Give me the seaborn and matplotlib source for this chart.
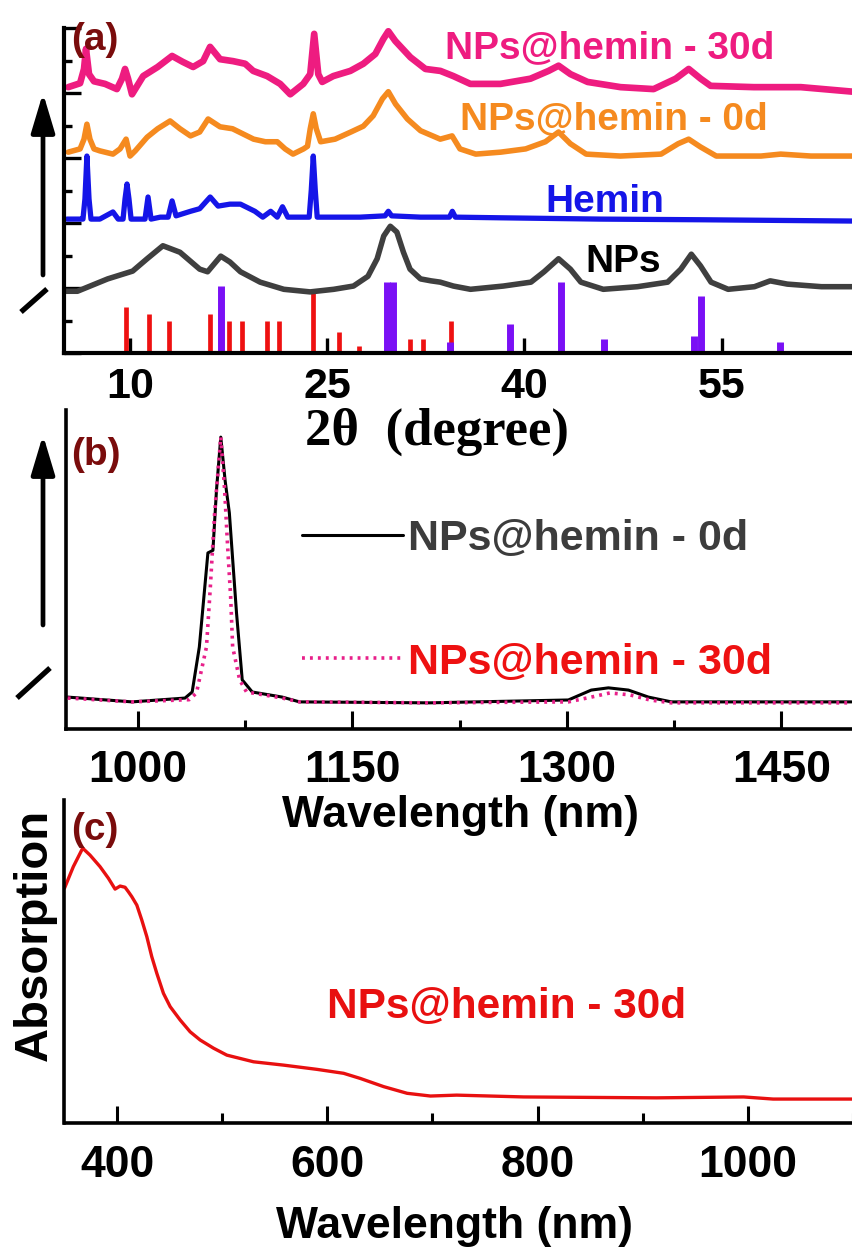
import numpy as np
import pandas as pd
import matplotlib
matplotlib.use("Agg")
import matplotlib.pyplot as plt
import seaborn as sns
from matplotlib.lines import Line2D
from matplotlib.ticker import MultipleLocator, FixedLocator

# ---------------- Panel (a): XRD (offset traces, arbitrary units) ----------------
nps_2theta = [5.1, 6.0, 8.3, 10.2, 11.3, 12.5, 13.8, 15.3, 15.9, 16.9, 17.6, 18.4, 19.9, 21.7,
              23.7, 25.5, 27.0, 28.1, 28.8, 29.3, 29.8, 30.3, 30.8, 31.3, 32.1, 32.9, 33.6, 34.6,
              35.9, 38.4, 40.5, 41.5, 42.6, 43.5, 44.3, 46.0, 48.6, 50.9, 51.9, 52.7, 53.4, 54.2,
              55.5, 57.5, 58.7, 60.0, 62.6, 65.0]
nps_int = [0.95, 0.95, 1.14, 1.26, 1.45, 1.65, 1.55, 1.29, 1.25, 1.49, 1.40, 1.25, 1.09, 0.98,
           0.94, 0.98, 1.03, 1.18, 1.45, 1.80, 1.95, 1.86, 1.55, 1.29, 1.14, 1.11, 1.09, 1.03,
           0.98, 1.03, 1.09, 1.25, 1.45, 1.29, 1.09, 0.98, 1.02, 1.09, 1.29, 1.52, 1.34, 1.09,
           0.98, 1.02, 1.11, 1.06, 1.02, 1.02]

hemin_2theta = [5.2, 6.3, 6.42, 6.57, 6.72, 6.88, 7.03, 7.7, 8.7, 9.1, 9.47, 9.62, 9.77, 9.92,
                10.08, 10.8, 11.14, 11.37, 11.6, 12.3, 12.9, 13.2, 13.5, 14.6, 15.3, 16.1, 16.7,
                17.6, 18.4, 19.5, 20.1, 20.7, 21.2, 21.6, 22.0, 23.0, 23.63, 23.79, 23.94, 24.09,
                24.24, 25.2, 27.5, 29.4, 29.65, 29.9, 32.1, 34.3, 34.52, 34.75, 38.2, 45.8, 53.4, 65.0]
hemin_int = [2.06, 2.06, 2.06, 2.37, 3.03, 2.37, 2.06, 2.06, 2.17, 2.06, 2.06, 2.37, 2.60, 2.37,
             2.06, 2.06, 2.06, 2.40, 2.06, 2.09, 2.09, 2.34, 2.11, 2.18, 2.22, 2.40, 2.26,
             2.29, 2.29, 2.18, 2.09, 2.18, 2.09, 2.25, 2.09, 2.09, 2.09, 2.51, 3.03, 2.51,
             2.09, 2.09, 2.09, 2.11, 2.18, 2.11, 2.09, 2.09, 2.18, 2.09, 2.08, 2.06, 2.05, 2.03]

h0d_2theta = [5.3, 6.2, 6.5, 6.72, 6.95, 7.26, 7.7, 8.7, 9.24, 9.7, 10.0, 10.4, 11.3, 12.1, 13.05,
              13.8, 14.6, 15.3, 15.94, 16.85, 17.8, 18.6, 19.4, 20.3, 21.2, 21.8, 22.4, 23.2, 23.5,
              23.71, 23.94, 24.17, 24.5, 25.6, 26.8, 27.75, 28.5, 29.2, 29.65, 30.2, 31.1, 32.1,
              33.6, 34.5, 35.1, 36.3, 38.2, 40.1, 41.6, 42.6, 43.5, 44.7, 47.3, 50.4, 51.7, 52.5,
              53.4, 54.6, 58.0, 59.5, 61.8, 65.0]
h0d_int = [3.09, 3.14, 3.29, 3.52, 3.29, 3.14, 3.11, 3.06, 3.14, 3.29, 3.03, 3.11, 3.32, 3.45, 3.57,
           3.45, 3.34, 3.40, 3.60, 3.48, 3.45, 3.37, 3.29, 3.25, 3.25, 3.14, 3.06, 3.14, 3.18,
           3.45, 3.68, 3.45, 3.25, 3.29, 3.40, 3.49, 3.65, 3.91, 4.02, 3.83, 3.60, 3.42,
           3.29, 3.34, 3.14, 3.06, 3.09, 3.14, 3.25, 3.40, 3.22, 3.06, 3.03, 3.06, 3.22, 3.29,
           3.17, 3.03, 3.03, 3.06, 3.03, 3.03]

h30d_2theta = [5.3, 6.2, 6.5, 6.65, 6.88, 7.26, 8.1, 9.0, 9.39, 9.62, 9.85, 10.15, 11.0, 12.1, 13.2,
               14.0, 14.8, 15.56, 16.09, 16.85, 17.84, 18.76, 19.37, 20.43, 21.42, 22.19, 23.18,
               23.71, 24.01, 24.32, 24.62, 25.46, 26.76, 27.75, 28.66, 29.27, 29.65, 30.18, 31.33,
               32.47, 33.61, 34.6, 35.89, 38.18, 40.46, 41.84, 42.6, 43.51, 44.81, 47.32, 49.83,
               51.51, 52.5, 53.41, 54.17, 57.45, 61.03, 65.0]
h30d_int = [4.09, 4.15, 4.37, 4.68, 4.29, 4.18, 4.14, 4.06, 4.22, 4.37, 4.22, 3.98, 4.26, 4.40, 4.57,
            4.48, 4.40, 4.49, 4.71, 4.52, 4.49, 4.45, 4.34, 4.26, 4.14, 3.98, 4.14,
            4.29, 4.91, 4.29, 4.17, 4.26, 4.34, 4.45, 4.60, 4.83, 4.95, 4.80, 4.55,
            4.37, 4.34, 4.26, 4.14, 4.14, 4.22, 4.34, 4.42, 4.29, 4.17, 4.09, 4.06,
            4.22, 4.37, 4.22, 4.11, 4.09, 4.09, 4.02]

ref_red_2theta = [9.70, 11.45, 12.97, 16.09, 17.54, 18.53, 20.43, 21.35, 23.94, 25.92, 27.44, 31.33, 32.32, 34.45]
ref_red_h = [0.71, 0.60, 0.49, 0.60, 0.49, 0.49, 0.49, 0.49, 0.95, 0.32, 0.11, 0.22, 0.22, 0.49]
ref_purple_2theta = [16.93, 29.57, 30.03, 34.37, 38.87, 42.75, 46.02, 52.88, 53.41, 59.43]
ref_purple_h = [1.03, 1.09, 1.09, 0.17, 0.45, 1.09, 0.22, 0.26, 0.88, 0.17]

xrd_ticks = [10, 25, 40, 55]
xrd_labels = ["NPs@hemin - 30d", "NPs@hemin - 0d", "Hemin", "NPs"]

# ---------------- Panel (b): emission spectra ----------------
pl_wl_0d = [951, 996, 1033, 1038, 1043, 1049, 1052.5, 1055, 1058, 1061, 1064, 1066.5, 1069, 1073,
            1080, 1101, 1113, 1204, 1301, 1317, 1329, 1343, 1357, 1373, 1499]
pl_0d = [0.100, 0.085, 0.097, 0.116, 0.257, 0.552, 0.560, 0.749, 0.915, 0.780, 0.677, 0.520, 0.364,
         0.154, 0.116, 0.100, 0.085, 0.082, 0.091, 0.122, 0.129, 0.122, 0.100, 0.085, 0.085]
pl_wl_30d = [951, 996, 1036, 1041, 1048, 1050.7, 1053.7, 1058, 1060.7, 1062.8, 1064.9, 1066.3,
             1071.2, 1076, 1101, 1113, 1204, 1301, 1317, 1330, 1344, 1358, 1373, 1499]
pl_30d = [0.097, 0.085, 0.092, 0.113, 0.257, 0.445, 0.677, 0.915, 0.749, 0.571, 0.414, 0.257,
          0.154, 0.116, 0.097, 0.085, 0.082, 0.085, 0.100, 0.113, 0.107, 0.091, 0.082, 0.082]
pl_ticks = [1000, 1150, 1300, 1450]
pl_minor = [1075, 1225, 1375]
pl_labels = ["NPs@hemin - 0d", "NPs@hemin - 30d"]

# ---------------- Panel (c): absorption ----------------
abs_wl = [350, 358.4, 367.3, 374.3, 383.8, 391.7, 398.1, 402.9, 407.6, 410.8, 414, 418.8, 423.5,
          428.3, 433, 437.8, 444.1, 450.5, 460, 469.5, 479, 491.7, 504.4, 529.8, 558.4, 590.2,
          615.5, 631.4, 653.6, 675.9, 698.1, 723, 786.7, 913, 996, 1024, 1100]
abs_val = [0.775, 0.846, 0.907, 0.884, 0.846, 0.808, 0.772, 0.782, 0.778, 0.763, 0.747, 0.719, 0.670,
           0.615, 0.549, 0.494, 0.428, 0.384, 0.340, 0.301, 0.274, 0.247, 0.224, 0.202, 0.191, 0.177,
           0.164, 0.147, 0.120, 0.098, 0.089, 0.092, 0.086, 0.083, 0.086, 0.079, 0.079]
abs_ticks = [400, 600, 800, 1000]
abs_minor = [500, 700, 900, 1100]

# ---------------- styling ----------------
sns.set_theme(style="white")
plt.rcParams["font.family"] = ["Liberation Sans", "DejaVu Sans"]
plt.rcParams["font.weight"] = "bold"
plt.rcParams["axes.labelweight"] = "bold"
plt.rcParams["text.color"] = "black"
plt.rcParams["axes.labelcolor"] = "black"
plt.rcParams["xtick.color"] = "black"
plt.rcParams["ytick.color"] = "black"
plt.rcParams["axes.edgecolor"] = "black"

C_PINK = "#EE1C80"
C_ORANGE = "#F58A1F"
C_BLUE = "#1515E8"
C_GRAY = "#3F3F3F"
C_RED = "#EE1111"
C_PURPLE = "#7A10F5"
C_MAROON = "#7A0C0C"

W, H = 853, 1248
fig = plt.figure(figsize=(W / 100, H / 100), dpi=100)
fig.patch.set_facecolor("white")


def fx(px):
    return px / W


def fy(py):
    return 1 - py / H


def rect(l, t, r, b):
    return [l / W, 1 - b / H, (r - l) / W, (b - t) / H]


def style_axes(ax, spine_w):
    for s in ["top", "right"]:
        ax.spines[s].set_visible(False)
    for s in ["left", "bottom"]:
        ax.spines[s].set_linewidth(spine_w)
        ax.spines[s].set_color("black")
    ax.set_facecolor("none")
    ax.grid(False)


# ---------- (a) ----------
axa = fig.add_axes(rect(64.3, 28, 853, 353))
style_axes(axa, 3.0)
axa.vlines(ref_red_2theta, 0, ref_red_h, colors=C_RED, lw=3.4, zorder=1)
axa.vlines(ref_purple_2theta, 0, ref_purple_h, colors=C_PURPLE, lw=5.0, zorder=1.1)
traces = [(h30d_2theta, h30d_int, C_PINK, 4.8), (h0d_2theta, h0d_int, C_ORANGE, 4.0),
          (hemin_2theta, hemin_int, C_BLUE, 3.8), (nps_2theta, nps_int, C_GRAY, 4.0)]
for xs, ys, c, lw in traces:
    sns.lineplot(x=xs, y=ys, ax=axa, color=c, lw=lw, sort=False, estimator=None, zorder=2)
axa.set_xlim(5, 65)
axa.set_ylim(0, 5.0)
axa.xaxis.set_major_locator(FixedLocator(xrd_ticks))
axa.yaxis.set_major_locator(MultipleLocator(1))
axa.yaxis.set_minor_locator(MultipleLocator(0.5))
axa.tick_params(axis="x", direction="in", length=11, width=2.4, pad=10, labelsize=31, bottom=True,
                colors="black")
axa.tick_params(axis="y", which="major", direction="in", length=12, width=2.4, left=True, labelleft=False)
axa.tick_params(axis="y", which="minor", direction="in", length=6, width=2.4, left=True)
axa.set_xlabel("2\u03b8  (degree)", fontsize=38, fontweight="bold", color="black",
               fontfamily=["Liberation Serif", "DejaVu Serif"])
axa.xaxis.set_label_coords((437 - 64.3) / (853 - 64.3), (353 - 408) / 325)
axa.set_ylabel("")

# direct labels
axa.text(33.99, 4.54, xrd_labels[0], color=C_PINK, fontsize=28, fontweight="bold", va="baseline", ha="left")
axa.text(35.13, 3.45, xrd_labels[1], color=C_ORANGE, fontsize=28, fontweight="bold", va="baseline", ha="left")
axa.text(41.61, 2.17, xrd_labels[2], color=C_BLUE, fontsize=28, fontweight="bold", va="baseline", ha="left")
axa.text(44.65, 1.25, xrd_labels[3], color="black", fontsize=28, fontweight="bold", va="baseline", ha="left")

# ---------- (b) ----------
axb = fig.add_axes(rect(66.3, 410, 853, 729))
style_axes(axb, 2.6)
sns.lineplot(x=pl_wl_0d, y=pl_0d, ax=axb, color="black", lw=2.2, sort=False, estimator=None,
             label=pl_labels[0], zorder=2)
sns.lineplot(x=pl_wl_30d, y=pl_30d, ax=axb, color="#E8208A", lw=2.6, sort=False, estimator=None,
             label=pl_labels[1], zorder=3, linestyle=(0, (0.8, 1.4)))
axb.set_xlim(950, 1500)
axb.set_ylim(0, 1)
axb.xaxis.set_major_locator(FixedLocator(pl_ticks))
axb.xaxis.set_minor_locator(FixedLocator(pl_minor))
axb.tick_params(axis="x", which="major", direction="in", length=13, width=2.2, pad=15, labelsize=32,
                bottom=True, colors="black")
axb.tick_params(axis="x", which="minor", direction="in", length=6.5, width=2.2, bottom=True)
axb.tick_params(axis="y", left=False, labelleft=False)
axb.set_xlabel("Wavelength (nm)", fontsize=32, fontweight="bold", color="black")
axb.xaxis.set_label_coords((461 - 66.3) / (853 - 66.3), (729 - 795) / 319)
axb.set_ylabel("")
leg = axb.legend(loc="upper left", bbox_to_anchor=(fx(302), fy(519)), bbox_transform=fig.transFigure,
                 frameon=False, handlelength=2.35, handletextpad=0.12, labelspacing=1.94,
                 borderpad=0, borderaxespad=0, prop={"size": 31, "weight": "bold"})
for t, c in zip(leg.get_texts(), ["#3C3C3C", C_RED]):
    t.set_color(c)

# ---------- (c) ----------
axc = fig.add_axes(rect(64.5, 800, 853, 1123))
style_axes(axc, 2.6)
sns.lineplot(x=abs_wl, y=abs_val, ax=axc, color="#E81010", lw=2.4, sort=False, estimator=None)
axc.set_xlim(350, 1100)
axc.set_ylim(0, 1.066)
axc.xaxis.set_major_locator(FixedLocator(abs_ticks))
axc.xaxis.set_minor_locator(FixedLocator(abs_minor))
axc.tick_params(axis="x", which="major", direction="in", length=12, width=2.2, pad=16, labelsize=32,
                bottom=True, colors="black")
axc.tick_params(axis="x", which="minor", direction="in", length=7, width=2.2, bottom=True)
axc.tick_params(axis="y", left=False, labelleft=False)
axc.set_xlabel("Wavelength (nm)", fontsize=32, fontweight="bold", color="black")
axc.xaxis.set_label_coords((455 - 64.5) / (853 - 64.5), (1123 - 1206) / 323)
axc.set_ylabel("Absorption", fontsize=34, fontweight="bold", color="black")
axc.yaxis.set_label_coords((57 - 64.5) / (853 - 64.5), (1123 - 935) / 323)
axc.text(600, 0.347, "NPs@hemin - 30d", color="#E81010", fontsize=30.5, fontweight="bold",
         va="baseline", ha="left")

for ax in (axa, axb, axc):
    for lab in ax.get_xticklabels():
        lab.set_fontweight("bold")
        lab.set_color("black")

# ---------- panel letters, arrows, break marks ----------
for txt, py in [("(a)", 40), ("(b)", 455), ("(c)", 830)]:
    fig.text(fx(71), fy(py), txt, color=C_MAROON, fontsize=28, fontweight="bold", ha="left", va="center")

for tail, tip in [(275, 93), (625, 435)]:
    axa.annotate("", xy=(43, H - tip), xytext=(43, H - tail), xycoords="figure pixels",
                 textcoords="figure pixels", annotation_clip=False,
                 arrowprops=dict(arrowstyle="-|>,head_length=1.0,head_width=0.3", color="black",
                                 lw=3.4, mutation_scale=24, shrinkA=0, shrinkB=0))

for (x1, y1, x2, y2) in [(21, 312, 47, 289), (17, 698, 50, 668)]:
    fig.add_artist(Line2D([fx(x1), fx(x2)], [fy(y1), fy(y2)], transform=fig.transFigure,
                          color="black", lw=3.8, solid_capstyle="butt"))

fig.savefig("out.png", dpi=100, facecolor="white")
